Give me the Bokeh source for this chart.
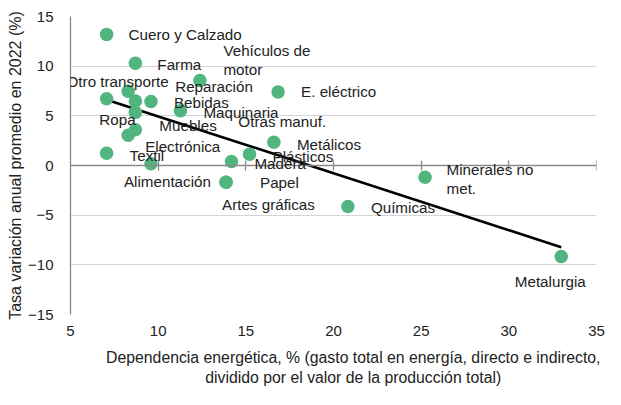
import numpy as np
from bokeh.plotting import figure
from bokeh.models import (ColumnDataSource, LabelSet, LinearAxis, FixedTicker,
                          CustomJSTickFormatter, Range1d)
from bokeh.core.properties import value
from bokeh.embed import file_html
from bokeh.resources import INLINE

# ---- data ----
sectors = ["Cuero y Calzado", "Farma", "Otro transporte", "Reparación", "Otras manuf.",
           "Bebidas", "Vehículos de\nmotor", "E. eléctrico", "Maquinaria", "Ropa",
           "Muebles", "Electrónica", "Textil", "Alimentación", "Madera", "Plásticos",
           "Metálicos", "Papel", "Artes gráficas", "Químicas", "Minerales no\nmet.",
           "Metalurgia"]
energy_dependence = [7.06, 8.70, 7.06, 8.29, 8.70, 9.59, 12.38, 16.84, 11.27, 8.70,
                     8.70, 8.29, 7.06, 9.59, 14.18, 15.21, 16.60, 13.87, 13.87, 20.82,
                     25.22, 32.99]
growth_2022 = [13.2, 10.3, 6.73, 7.47, 6.5, 6.44, 8.55, 7.40, 5.51, 5.35,
               3.6, 3.04, 1.23, 0.17, 0.40, 1.13, 2.35, -1.68, -1.68, -4.12,
               -1.19, -9.17]
x_ticks = [5, 10, 15, 20, 25, 30, 35]
y_ticks = [-15, -10, -5, 0, 5, 10, 15]
x_title = ["Dependencia energética, % (gasto total en energía, directo e indirecto,",
           "dividido por el valor de la producción total)"]
y_title = "Tasa variación anual promedio en 2022 (%)"

# label placement (screen px relative to the point; dy positive = downward)
label_dx = [22, 22, 11, 47, 103, 23, 67, 23, 23, -36, 24, 17, 23, -27, 23, 23, 23, 34, -4, 23, 65, -11]
label_dy = [0, 1, -17, -5, 21, 1, -21, 0, 2, 7, -4, 11, 2, 18, 2, 2, 2, 0, 22, 1, 2, 25]
label_align = ["left", "left", "center", "left", "left", "left", "center", "left", "left", "left",
               "left", "left", "left", "left", "left", "left", "left", "left", "left", "left",
               "center", "center"]

FONT = "Liberation Sans"
TXT = "#222222"
GREEN = "#50b57e"
AXIS_GREY = "#8a8a8a"
PAD = "\u00a0" * 9   # nudges the centred x-axis title to the right, as in the reference

p = figure(width=605, height=389, output_backend="svg", toolbar_location=None,
           x_range=Range1d(5, 35), y_range=Range1d(-15, 15),
           min_border_left=70, min_border_right=9, min_border_top=16, min_border_bottom=75)
p.outline_line_color = None
p.background_fill_color = "white"
p.border_fill_color = "white"

# grid
p.xgrid.visible = False
p.ygrid.ticker = FixedTicker(ticks=y_ticks)
p.ygrid.grid_line_color = "#d4d4d4"
p.ygrid.grid_line_width = 1

# y axis
yax = p.yaxis[0]
yax.ticker = FixedTicker(ticks=y_ticks)
yax.axis_line_color = AXIS_GREY
yax.axis_line_width = 1.3
yax.major_tick_in = 0
yax.major_tick_out = 0
yax.minor_tick_line_color = None
yax.major_label_standoff = 17
yax.major_label_text_font = FONT
yax.major_label_text_font_size = "15px"
yax.major_label_text_color = TXT
yax.axis_label = y_title
yax.axis_label_text_font = FONT
yax.axis_label_text_font_size = "16px"
yax.axis_label_text_font_style = "normal"
yax.axis_label_text_color = TXT
yax.axis_label_standoff = 1

# x axis (tick labels and title at the bottom)
xax = p.xaxis[0]
xax.ticker = FixedTicker(ticks=x_ticks)
xax.axis_line_color = None
xax.major_tick_in = 0
xax.major_tick_out = 0
xax.minor_tick_line_color = None
xax.major_label_standoff = 11
xax.major_label_text_font = FONT
xax.major_label_text_font_size = "15px"
xax.major_label_text_color = TXT
xax.axis_label = PAD + x_title[0] + "\n" + PAD + x_title[1]
xax.axis_label_text_font = FONT
xax.axis_label_text_font_size = "15.8px"
xax.axis_label_text_font_style = "normal"
xax.axis_label_text_color = TXT
xax.axis_label_text_line_height = 1.2
xax.axis_label_standoff = 10

# x axis line drawn at y = 0 with crossing ticks
zero_axis = LinearAxis(fixed_location=0, ticker=FixedTicker(ticks=x_ticks[1:]),
                       formatter=CustomJSTickFormatter(code="return ''"))
zero_axis.axis_line_color = AXIS_GREY
zero_axis.axis_line_width = 1.3
zero_axis.major_tick_line_color = AXIS_GREY
zero_axis.major_tick_line_width = 1.3
zero_axis.major_tick_in = 5
zero_axis.major_tick_out = 5
zero_axis.minor_tick_line_color = None
zero_axis.major_label_text_font_size = "0px"
p.add_layout(zero_axis, "below")

# trend line (least squares fit, drawn over the data range)
xs = np.array(energy_dependence)
ys = np.array(growth_2022)
slope, intercept = np.polyfit(xs, ys, 1)
trend_x = [xs.min(), xs.max()]
trend_y = [slope * v + intercept for v in trend_x]
p.line(trend_x, trend_y, line_color="black", line_width=2.6)

# points
p.scatter(energy_dependence, growth_2022, size=13.5, fill_color=GREEN, line_color=None)

# labels
for align in ("left", "center"):
    idx = [i for i, a in enumerate(label_align) if a == align]
    src = ColumnDataSource(dict(
        x=[energy_dependence[i] for i in idx],
        y=[growth_2022[i] for i in idx],
        text=[sectors[i] for i in idx],
        dx=[label_dx[i] for i in idx],
        dy=[-label_dy[i] for i in idx],
    ))
    ls = LabelSet(x="x", y="y", text="text", x_offset="dx", y_offset="dy", source=src,
                  text_align=align, text_baseline="middle", text_font=value(FONT),
                  text_font_size=value("15.2px"), text_color=TXT, text_line_height=1.12)
    p.add_layout(ls)

open("out.html", "w").write(file_html(p, INLINE))
